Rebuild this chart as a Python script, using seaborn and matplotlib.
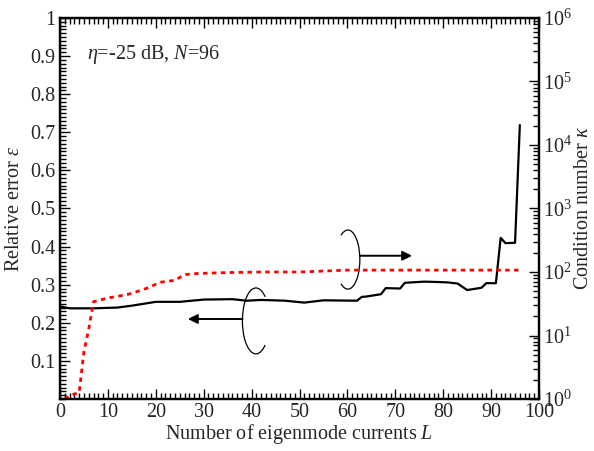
import numpy as np
import pandas as pd
import matplotlib
matplotlib.use("Agg")
import matplotlib.pyplot as plt
import seaborn as sns
from matplotlib.patches import Arc
from matplotlib.ticker import MultipleLocator, LogLocator, NullFormatter, FixedLocator

# ---- data ----
L_err = [0, 2, 7, 12, 15, 20, 25, 30, 36, 39, 42, 47, 51, 55, 62, 63, 64, 67, 68,
         71, 72, 76, 79, 81, 83, 85, 86, 88, 89, 91, 92, 93, 95, 96]
rel_err = [0.243, 0.238, 0.238, 0.240, 0.245, 0.255, 0.255, 0.261, 0.262, 0.258,
           0.260, 0.258, 0.253, 0.259, 0.258, 0.268, 0.269, 0.275, 0.291, 0.290,
           0.305, 0.308, 0.307, 0.306, 0.303, 0.286, 0.288, 0.292, 0.304, 0.304,
           0.423, 0.409, 0.410, 0.719]

L_cond = [1, 2, 3, 4, 5, 6, 7, 10, 14, 16, 18, 21, 24, 26, 29, 35, 42, 50, 60,
          70, 80, 90, 96]
cond_num = [1.0, 1.12, 1.2, 1.26, 5.6, 12.6, 34, 39, 44, 49, 55, 69, 74, 91, 95,
            98, 100, 100, 107, 107, 107, 107, 107]

x_ticks = [0, 10, 20, 30, 40, 50, 60, 70, 80, 90, 100]
y_ticks = [0.1, 0.2, 0.3, 0.4, 0.5, 0.6, 0.7, 0.8, 0.9, 1.0]
y_tick_labels = ["0.1", "0.2", "0.3", "0.4", "0.5", "0.6", "0.7", "0.8", "0.9", "1"]

df_err = pd.DataFrame({"L": L_err, "err": rel_err})
df_cond = pd.DataFrame({"L": L_cond, "cond": cond_num})

sns.set_theme(style="ticks")
plt.rcParams["font.family"] = ["Liberation Serif", "DejaVu Serif"]
plt.rcParams["mathtext.fontset"] = "custom"
plt.rcParams["mathtext.rm"] = "Liberation Serif"
plt.rcParams["mathtext.it"] = "Liberation Serif:italic"
plt.rcParams["mathtext.bf"] = "Liberation Serif:bold"

fs = 14.5
fig = plt.figure(figsize=(5.94, 4.51), dpi=100)
ax = fig.add_axes([60 / 594, 1 - 399 / 451, 479 / 594, 381 / 451])

sns.lineplot(data=df_err, x="L", y="err", ax=ax, color="black", linewidth=1.6,
             sort=False, estimator=None)
ax.set_xlim(0, 100)
ax.set_ylim(0, 1)
ax.xaxis.set_major_locator(FixedLocator(x_ticks))
ax.xaxis.set_minor_locator(MultipleLocator(1))
ax.yaxis.set_major_locator(FixedLocator(y_ticks))
ax.set_yticklabels(y_tick_labels)
ax.yaxis.set_minor_locator(MultipleLocator(0.01))
ax.tick_params(which="both", direction="in", top=True, right=False,
               labelsize=fs, color="black", width=1.0, pad=3)
ax.tick_params(which="major", length=7)
ax.tick_params(which="minor", length=4)
ax.set_xlabel(r"Number of eigenmode currents $L$", fontsize=fs, labelpad=0)
ax.set_ylabel(r"Relative error $\varepsilon$", fontsize=fs, labelpad=5)
for s in ax.spines.values():
    s.set_linewidth(1.6)
    s.set_color("black")

ax2 = ax.twinx()
sns.lineplot(data=df_cond, x="L", y="cond", ax=ax2, color="red", linewidth=2.0,
             sort=False, estimator=None)
ax2.lines[-1].set_dashes((1.6, 1.6))
ax2.set_yscale("log")
ax2.set_ylim(1, 1e6)
ax2.set_xlim(0, 100)
ax2.set_xlabel("")
ax2.yaxis.set_major_locator(LogLocator(base=10, numticks=10))
ax2.yaxis.set_minor_locator(LogLocator(base=10, subs=np.arange(2, 10), numticks=20))
ax2.yaxis.set_minor_formatter(NullFormatter())
ax2.tick_params(which="both", direction="in", labelsize=fs, color="black", width=1.0, pad=3)
ax2.tick_params(which="major", length=7)
ax2.tick_params(which="minor", length=4)
ax2.set_ylabel(r"Condition number $\kappa$", fontsize=fs, labelpad=1)
for s in ax2.spines.values():
    s.set_linewidth(1.6)
    s.set_color("black")


def arc_angle(param_deg, w, h):
    t = np.deg2rad(param_deg)
    return np.rad2deg(np.arctan2(h * np.sin(t), w * np.cos(t)))


# annotations: ovals and arrows
w1, h1 = 5.64, 0.173
a1 = arc_angle(47, w1, h1)
ax.add_patch(Arc((40.9, 0.205), w1, h1, theta1=a1, theta2=360 - a1,
                 color="black", linewidth=0.9))
ax.annotate("", xy=(26.7, 0.210), xytext=(38.1, 0.210),
            arrowprops=dict(arrowstyle="-|>", color="black", lw=1.4,
                            mutation_scale=14, shrinkA=0, shrinkB=0))
w2, h2 = 5.0, 0.155
a2 = arc_angle(125, w2, h2)
ax.add_patch(Arc((60.1, 0.366), w2, h2, theta1=-a2, theta2=a2,
                 color="black", linewidth=0.9))
ax.annotate("", xy=(73.5, 0.376), xytext=(62.6, 0.376),
            arrowprops=dict(arrowstyle="-|>", color="black", lw=1.4,
                            mutation_scale=14, shrinkA=0, shrinkB=0))

ax.text(5.6, 0.903, r"$\eta$=-25 dB, $N$=96", fontsize=fs, ha="left", va="center")

fig.savefig("out.png", dpi=100)
